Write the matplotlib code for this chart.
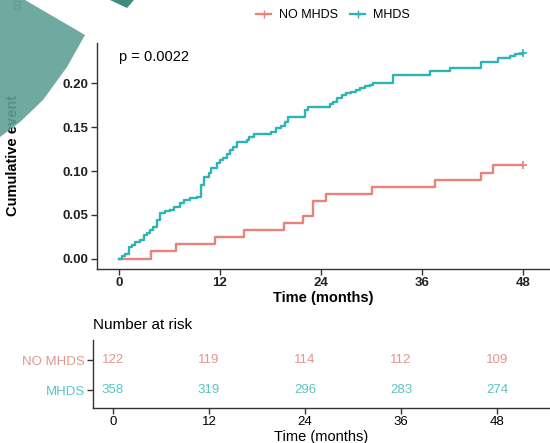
import matplotlib.pyplot as plt
from matplotlib.patches import Polygon
from matplotlib.lines import Line2D
import numpy as np

plt.rcParams["font.family"] = ["Liberation Sans", "DejaVu Sans"]

# cumulative event curves (step times in months, value after the step)
t_no = [0, 3.85, 6.8, 11.4, 14.9, 19.6, 21.9, 23.0, 24.6, 30.1, 37.5, 43.0, 44.4, 48]
v_no = [0, 0.0082, 0.0164, 0.0246, 0.0328, 0.041, 0.049, 0.0656, 0.0738,
        0.082, 0.090, 0.098, 0.1066, 0.1066]

t_mh = [0, 0.4, 0.75, 1.15, 1.55, 1.95, 2.5, 2.95, 3.3, 3.7, 4.1, 4.5, 4.9, 5.5,
        6.1, 6.5, 7.3, 7.7, 8.5, 9.3, 9.7, 10.1, 10.65, 11.0, 11.6, 12.0, 12.4,
        12.8, 13.2, 13.6, 14.0, 15.2, 15.4, 16.0, 18.1, 18.7, 19.3, 19.7, 20.1,
        22.1, 22.5, 25.1, 25.45, 25.85, 26.45, 27.0, 27.6, 28.2, 28.6, 29.2,
        29.8, 30.2, 32.6, 36.9, 39.3, 43.0, 45.0, 46.4, 47.0, 48.0]
v_mh = [0, 0.0028, 0.0056, 0.0137, 0.0156, 0.019, 0.021, 0.027, 0.029, 0.033,
        0.0365, 0.044, 0.052, 0.054, 0.0556, 0.059, 0.063, 0.067, 0.069, 0.0707,
        0.084, 0.0936, 0.0974, 0.103, 0.109, 0.1126, 0.1145, 0.120, 0.124,
        0.128, 0.1335, 0.1354, 0.139, 0.142, 0.145, 0.149, 0.1514, 0.156,
        0.162, 0.170, 0.173, 0.177, 0.179, 0.183, 0.187, 0.1887, 0.1905,
        0.1925, 0.195, 0.197, 0.198, 0.2008, 0.2096, 0.2145, 0.218, 0.224,
        0.229, 0.2315, 0.234, 0.234]

groups = ["NO MHDS", "MHDS"]
risk_times = [0, 12, 24, 36, 48]
risk_no = [122, 119, 114, 112, 109]
risk_mh = [358, 319, 296, 283, 274]

red = "#E8837B"
teal = "#2DB5B5"
red_txt = "#E3958F"
teal_txt = "#5CC3C3"
W, H = 550, 443

fig = plt.figure(figsize=(5.5, 4.43), dpi=100)


def box(l, t, r, b):
    return [l / W, 1 - b / H, (r - l) / W, (b - t) / H]


# main plot
ax = fig.add_axes(box(97, 43, 550, 269))
ax.step(t_no, v_no, where="post", color=red, lw=1.7)
ax.step(t_mh, v_mh, where="post", color=teal, lw=1.7)
ax.plot(t_no[-1], v_no[-1], "+", color=red, ms=6, mew=1.2)
ax.plot(t_mh[-1], v_mh[-1] + 0.001, "+", color=teal, ms=6, mew=1.2)
ax.set_xlim(-2.6, 48 + 27 / 8.417)
ax.set_ylim(-0.0118, 0.2462)
ax.set_xticks(risk_times)
ax.set_yticks([0, 0.05, 0.10, 0.15, 0.20])
ax.set_yticklabels(["0.00", "0.05", "0.10", "0.15", "0.20"])
for s in ["top", "right"]:
    ax.spines[s].set_visible(False)
for s in ["left", "bottom"]:
    ax.spines[s].set_color("#333333")
    ax.spines[s].set_linewidth(1.0)
ax.tick_params(length=4, width=1, color="#333333", labelsize=9.5, pad=2)
for lab in ax.get_xticklabels() + ax.get_yticklabels():
    lab.set_fontweight("bold")
    lab.set_color("#222222")
ax.set_xlabel("Time (months)", fontsize=10.5, fontweight="bold", labelpad=1)
ax.set_ylabel("Cumulative event", fontsize=10.5, fontweight="bold")
ax.yaxis.set_label_coords((20 - 97) / 453, 0.5)
ax.text(0, 0.230, "p = 0.0022", fontsize=10.5, va="center", ha="left")

handles = [Line2D([], [], color=red, lw=1.6, marker="+", ms=6),
           Line2D([], [], color=teal, lw=1.6, marker="+", ms=6)]
fig.legend(handles, groups, loc="center", bbox_to_anchor=(333 / W, 1 - 15 / H),
           ncol=2, frameon=False, fontsize=9, handlelength=1.2,
           columnspacing=1.0, handletextpad=0.6)

# risk table
rx = fig.add_axes(box(93, 340, 550, 408))
for i, t in enumerate(risk_times):
    rx.text(t, 1, str(risk_no[i]), color=red_txt, ha="center", va="center", fontsize=9.5)
    rx.text(t, 0, str(risk_mh[i]), color=teal_txt, ha="center", va="center", fontsize=9.5)
rx.set_xlim(-2.5, 48 + 53 / 8.0)
rx.set_ylim(-0.6, 1.667)
rx.set_xticks(risk_times)
rx.set_yticks([1, 0])
rx.set_yticklabels(groups)
for lab, c in zip(rx.get_yticklabels(), [red_txt, teal_txt]):
    lab.set_color(c)
for s in ["top", "right"]:
    rx.spines[s].set_visible(False)
for s in ["left", "bottom"]:
    rx.spines[s].set_color("#333333")
    rx.spines[s].set_linewidth(1.0)
rx.tick_params(length=4, width=1, color="#333333", labelsize=9.5, pad=2)
rx.set_xlabel("Time (months)", fontsize=10.5, labelpad=1)
fig.text(93 / W, 1 - 325 / H, "Number at risk", fontsize=11, va="center", ha="left")

# overlay shapes in the top-left corner
fig.text(17 / W, 1 - 7 / H, "B", fontsize=9.5, color="#555555", ha="center", va="center")
shape = [(0, 0), (25, 0), (85, 35), (67, 67), (43, 100), (20, 122), (0, 137)]
fig.patches.append(Polygon([(x / W, 1 - y / H) for x, y in shape], closed=True,
                           transform=fig.transFigure, facecolor="#5FA096",
                           edgecolor="none", alpha=0.9, zorder=10))
shape2 = [(110, 0), (127, 8), (134, 0)]
fig.patches.append(Polygon([(x / W, 1 - y / H) for x, y in shape2], closed=True,
                           transform=fig.transFigure, facecolor="#3C8C80",
                           edgecolor="none", zorder=10))

fig.savefig("out.png", dpi=100)
